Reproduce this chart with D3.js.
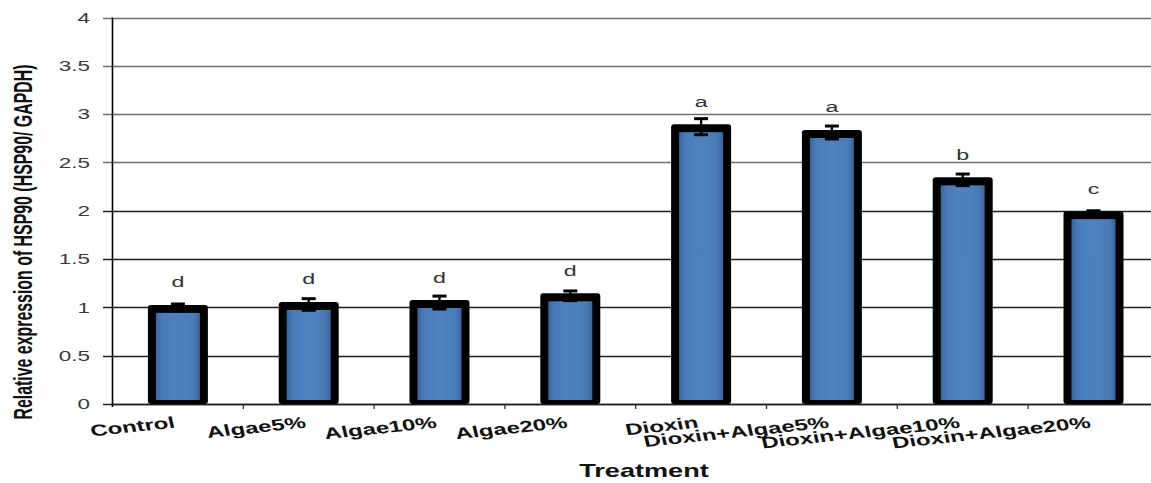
<!DOCTYPE html>
<html>
<head>
<meta charset="utf-8">
<script src="https://cdn.jsdelivr.net/npm/d3@7"></script>
<style>
  html, body { margin: 0; padding: 0; background: #fff; }
  svg { display: block; }
  text { font-family: "Liberation Sans", Arial, sans-serif; }
</style>
</head>
<body>
<div id="chart"></div>
<script>
const categories = ["Control", "Algae5%", "Algae10%", "Algae20%", "Dioxin",
  "Dioxin+Algae5%", "Dioxin+Algae10%", "Dioxin+Algae20%"];
const values = [1.00, 1.03, 1.05, 1.12, 2.87, 2.81, 2.32, 1.97];
const errors = [0.035, 0.06, 0.067, 0.05, 0.083, 0.067, 0.06, 0.03];
const letters = ["d", "d", "d", "d", "a", "a", "b", "c"];
const yTicks = [0, 0.5, 1, 1.5, 2, 2.5, 3, 3.5, 4];
const yTickLabels = ["0", "0.5", "1", "1.5", "2", "2.5", "3", "3.5", "4"];
const xTitle = "Treatment";
const yTitle = "Relative expression of  HSP90 (HSP90/ GAPDH)";

const W = 1151, H = 483;
const SX = 1.5; // horizontal stretch of the original picture's text

const svg = d3.select("#chart").append("svg")
  .attr("width", W).attr("height", H);

const defs = svg.append("defs");
const grad = defs.append("linearGradient").attr("id", "barGrad")
  .attr("x1", "0%").attr("x2", "100%").attr("y1", "0%").attr("y2", "0%");
[["0%", "#3a659c"], ["14%", "#4a7bb9"], ["50%", "#4f80bf"], ["86%", "#4a7bb9"], ["100%", "#3a659c"]]
  .forEach(([o, c]) => grad.append("stop").attr("offset", o).attr("stop-color", c));

const x0 = 112.5, band = 130.8;
const x = d3.scaleBand().domain(categories)
  .range([x0, x0 + band * categories.length]).padding(0);
const y = d3.scaleLinear().domain([0, 4]).range([404, 17.5]);

// gridlines (act also as left ticks)
svg.append("g").selectAll("line").data(yTicks).join("line")
  .attr("x1", 103).attr("x2", W)
  .attr("y1", d => Math.round(y(d)) + 0.5).attr("y2", d => Math.round(y(d)) + 0.5)
  .attr("stroke", d => d > 2.2 ? "#6e6e6e" : "#1e1e1e")
  .attr("stroke-width", 1.3);

// y tick labels
svg.append("g").selectAll("text").data(yTicks).join("text")
  .attr("transform", d => `translate(90,${y(d)}) scale(1.55,1)`)
  .attr("text-anchor", "end")
  .attr("dy", "0.36em")
  .attr("font-size", 14.5)
  .attr("fill", "#3a3a3a")
  .text((d, i) => yTickLabels[i]);

// y axis line
svg.append("line")
  .attr("x1", x0).attr("x2", x0).attr("y1", y(4)).attr("y2", 407)
  .attr("stroke", "#000").attr("stroke-width", 1.6);

// x axis line + ticks
svg.append("line")
  .attr("x1", x0).attr("x2", W).attr("y1", 404.5).attr("y2", 404.5)
  .attr("stroke", "#1e1e1e").attr("stroke-width", 1.3);
svg.append("g").selectAll("line").data(categories.slice(1)).join("line")
  .attr("x1", d => x(d)).attr("x2", d => x(d))
  .attr("y1", 404).attr("y2", 409)
  .attr("stroke", "#333").attr("stroke-width", 1.3);

// bars
const bw = 60, bt = 8;
const bars = svg.append("g").selectAll("g").data(categories).join("g");
bars.append("rect")
  .attr("x", d => x(d) + band / 2 - bw / 2)
  .attr("y", (d, i) => y(values[i]) - 2.5)
  .attr("width", bw)
  .attr("height", (d, i) => 404 - (y(values[i]) - 2.5))
  .attr("rx", 3)
  .attr("fill", "#000");
bars.append("rect")
  .attr("x", d => x(d) + band / 2 - bw / 2 + bt)
  .attr("y", (d, i) => y(values[i]) - 2.5 + bt)
  .attr("width", bw - 2 * bt)
  .attr("height", (d, i) => 404 - 4 - (y(values[i]) - 2.5 + bt))
  .attr("fill", "url(#barGrad)");

// error bars
const cap = 14;
const eb = svg.append("g").selectAll("g").data(categories).join("g")
  .attr("stroke", "#000");
eb.append("line")
  .attr("x1", d => x(d) + band / 2).attr("x2", d => x(d) + band / 2)
  .attr("y1", (d, i) => y(values[i] + errors[i]))
  .attr("y2", (d, i) => y(values[i] - errors[i]))
  .attr("stroke-width", 2.4);
["+", "-"].forEach(s => {
  eb.append("line")
    .attr("x1", d => x(d) + band / 2 - cap / 2).attr("x2", d => x(d) + band / 2 + cap / 2)
    .attr("y1", (d, i) => y(values[i] + (s === "+" ? 1 : -1) * errors[i]))
    .attr("y2", (d, i) => y(values[i] + (s === "+" ? 1 : -1) * errors[i]))
    .attr("stroke-width", 3);
});

// significance letters
svg.append("g").selectAll("text").data(categories).join("text")
  .attr("transform", (d, i) => `translate(${x(d) + band / 2},${y(values[i]) - 20}) scale(1.5,1)`)
  .attr("text-anchor", "middle")
  .attr("font-size", 15.5)
  .attr("fill", "#333")
  .text((d, i) => letters[i]);

// x category labels (rotated)
svg.append("g").selectAll("text").data(categories).join("text")
  .attr("transform", d => `translate(${x(d) + band / 2 - 2},427.5) scale(${SX},1) rotate(-9)`)
  .attr("text-anchor", "end")
  .attr("font-size", 16)
  .attr("font-weight", "bold")
  .attr("fill", "#111")
  .text(d => d);

// x title
svg.append("text")
  .attr("transform", `translate(644,477) scale(1.55,1)`)
  .attr("text-anchor", "middle")
  .attr("font-size", 17.5)
  .attr("font-weight", "bold")
  .attr("fill", "#111")
  .text(xTitle);

// y title
svg.append("text")
  .attr("transform", `translate(32,242) scale(1.6,1) rotate(-90)`)
  .attr("text-anchor", "middle")
  .attr("font-size", 15.9)
  .attr("font-weight", "bold")
  .attr("fill", "#111")
  .text(yTitle);
</script>
</body>
</html>
